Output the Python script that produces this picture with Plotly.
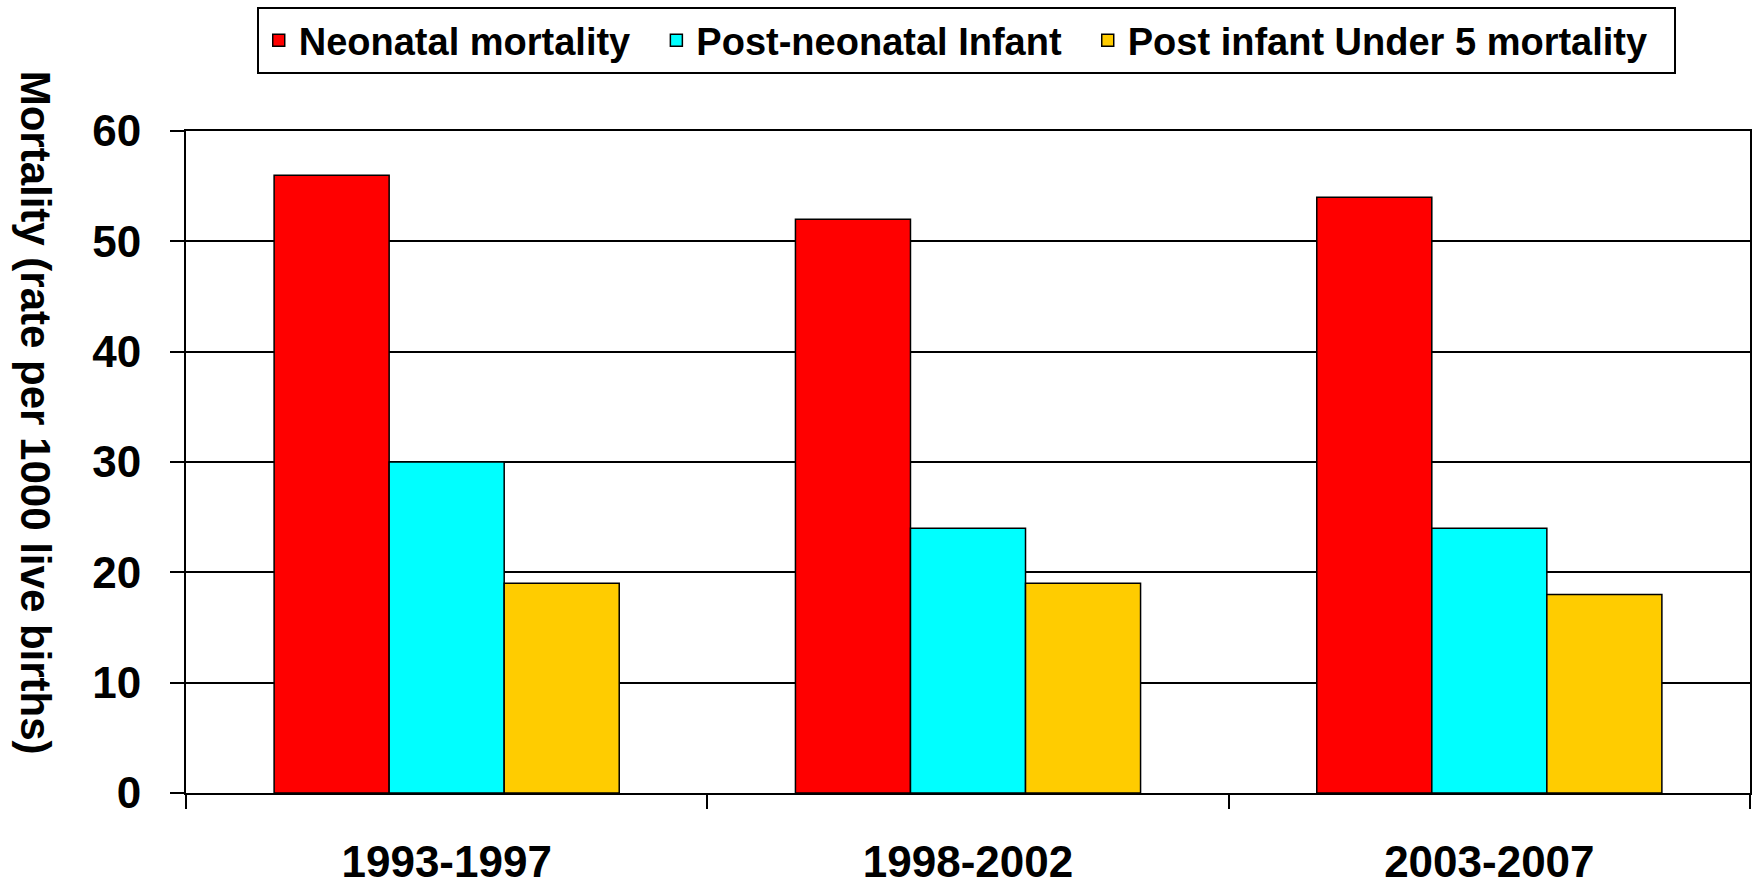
import plotly.graph_objects as go

periods = ["1993-1997", "1998-2002", "2003-2007"]
neonatal = [56, 52, 54]
post_neonatal = [30, 24, 24]
post_infant = [19, 19, 18]

series = [
    ("Neonatal mortality", neonatal, "#FF0000"),
    ("Post-neonatal Infant", post_neonatal, "#00FFFF"),
    ("Post infant Under 5 mortality", post_infant, "#FFCC00"),
]

FONT = "Liberation Sans, Arial, sans-serif"
PAD = "\u00a0\u00a0"  # espace en fin de légende, comme dans l'original

fig = go.Figure()
for name, vals, color in series:
    fig.add_trace(go.Bar(
        x=periods, y=vals, name=name + PAD,
        marker=dict(color=color, line=dict(color="black", width=1.5)),
    ))

# titre axe Y en annotation (plus haut que le centre du graphe)
fig.add_annotation(
    text="Mortality (rate per 1000 live births)",
    xref="paper", yref="paper", x=-0.0957, y=0.574,
    xanchor="center", yanchor="middle",
    textangle=90, showarrow=False,
    font=dict(family=FONT, size=42, color="black", weight="bold"),
)

fig.update_layout(
    width=1752, height=889,
    paper_bgcolor="white", plot_bgcolor="white",
    barmode="group", bargap=0.338, bargroupgap=0,
    margin=dict(l=186, r=2, t=131, b=96, autoexpand=False),
    font=dict(family=FONT, color="black", weight="bold"),
    legend=dict(
        orientation="h", xref="container", yref="container",
        x=0.5515, xanchor="center", y=0.992, yanchor="top",
        font=dict(family=FONT, size=38, color="black", weight="bold"),
        bordercolor="black", borderwidth=2, bgcolor="white",
    ),
    xaxis=dict(
        automargin=False,
        showline=True, linecolor="black", linewidth=2, mirror=True,
        ticks="outside", tickson="boundaries", ticklen=14, tickwidth=2, tickcolor="black",
        tickfont=dict(family=FONT, size=44, color="black", weight="bold"),
        ticklabelstandoff=29,
        showgrid=False,
    ),
    yaxis=dict(
        automargin=False,
        range=[0, 60], dtick=10,
        showline=True, linecolor="black", linewidth=2, mirror=True,
        ticks="outside", ticklen=14, tickwidth=2, tickcolor="black",
        tickfont=dict(family=FONT, size=44, color="black", weight="bold"),
        ticklabelstandoff=20,
        showgrid=True, gridcolor="black", gridwidth=1.5,
        zeroline=False,
    ),
)

# pas de marge de page autour du graphe, pas de barre d'outils
fig.write_html(
    "out.html",
    config={"displayModeBar": False},
    post_script="document.body.style.margin='0';",
)
